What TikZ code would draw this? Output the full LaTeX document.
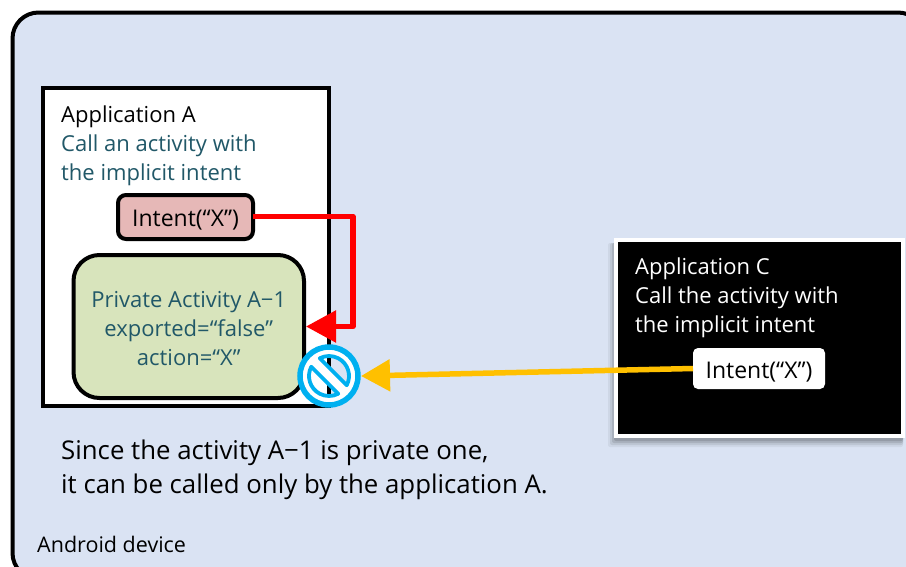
\documentclass[tikz,border=0pt]{standalone}
\usepackage{fontspec}
\setmainfont{Open Sans}
\usetikzlibrary{arrows.meta}
\definecolor{devfill}{HTML}{DAE3F3}
\definecolor{tealtext}{HTML}{215868}
\definecolor{intentfill}{HTML}{E6B8B7}
\definecolor{activityfill}{HTML}{D8E4BC}
\definecolor{stopblue}{HTML}{00B0F0}
\definecolor{calllink}{HTML}{FF0000}
\definecolor{badlink}{HTML}{FFC000}
\tikzset{
  x=1pt,y=-1pt,
  lbl/.style={anchor=base west,inner sep=0pt,font=\fontsize{22}{22}\selectfont},
  box/.style={draw=black,line width=4pt,inner sep=0pt,outer sep=0pt,anchor=north west},
  linkred/.style={draw=calllink,line width=5.5pt,line join=round,-{Triangle[length=30pt,width=31pt]}},
  linkyel/.style={draw=badlink,line width=5.5pt,-{Triangle[length=29pt,width=31pt]}},
}
\begin{document}
\begin{tikzpicture}
\useasboundingbox (0,0) rectangle (906,566);
\clip (0,0) rectangle (906,566);
% device
\node[box,fill=devfill,rounded corners=26pt,minimum width=911.5pt,minimum height=566.5pt] (device) at (12.5,12.5) {};
\node[lbl,font=\fontsize{21.5}{22}\selectfont] (devlabel) at (37,552.5) {Android device};
% Application A
\node[box,fill=white,minimum width=286.5pt,minimum height=318pt] (appA) at (42.5,88) {};
\node[lbl] (appAname) at (61,122) {Application A};
\node[lbl,text=tealtext] (appAl1) at (61,151) {Call an activity with};
\node[lbl,text=tealtext] (appAl2) at (61,180) {the implicit intent};
\node[box,fill=intentfill,rounded corners=8pt,minimum width=135pt,minimum height=44pt,font=\fontsize{23}{23}\selectfont] (intentA) at (118,195) {\raisebox{-9.5pt}[0pt][0pt]{Intent(“X”)}};
\node[box,fill=activityfill,rounded corners=26pt,minimum width=230.5pt,minimum height=143pt,text=tealtext,font=\fontsize{22}{29}\selectfont] (activity) at (73.5,255) {\raisebox{19.5pt}[0pt][0pt]{\begin{tabular}[t]{@{}c@{}}Private Activity A−1\\exported=“false”\\action=“X”\end{tabular}}};
% Application C
\foreach \o/\a in {9/0.05,7/0.08,5/0.10,3/0.12}{
  \fill[black,opacity=\a,rounded corners=2pt] (617-\o,243) rectangle (903,438+\o);
}
\node[box,draw=white,fill=black,minimum width=287pt,minimum height=196.5pt] (appC) at (616,239.5) {};
\node[lbl,text=white] (appCname) at (635,274) {Application C};
\node[lbl,text=white] (appCl1) at (635,303) {Call the activity with};
\node[lbl,text=white] (appCl2) at (635,332) {the implicit intent};
\node[fill=white,rounded corners=5pt,anchor=north west,outer sep=0pt,minimum width=132pt,minimum height=41pt,inner sep=0pt,font=\fontsize{23}{23}\selectfont] (intentC) at (693,348) {\raisebox{-9.5pt}[0pt][0pt]{Intent(“X”)}};
% connectors
\coordinate (redA) at (353,216.5);
\coordinate (redB) at (353,326.5);
\draw[linkred] (intentA.east |- redA) -- (redA) -- (redB) -- ([xshift=2pt]activity.east |- redB);
% no-entry sign
\node[circle,minimum size=64pt,inner sep=0pt,outer sep=0pt] (noentry) at (329,376) {};
\begin{scope}[shift={(noentry.center)},x=1pt,y=1pt]
  \fill[white,even odd rule] (0,0) circle[radius=28pt]
    (-27.5:20pt) arc[start angle=-27.5,end angle=117.5,radius=20pt] -- cycle
    (152.5:20pt) arc[start angle=152.5,end angle=297.5,radius=20pt] -- cycle;
  \draw[stopblue,line width=5.5pt] (0,0) circle[radius=29pt];
  \draw[stopblue,line width=3.8pt,line join=round]
    (-27.5:20pt) arc[start angle=-27.5,end angle=117.5,radius=20pt] -- cycle
    (152.5:20pt) arc[start angle=152.5,end angle=297.5,radius=20pt] -- cycle;
\end{scope}
\draw[linkyel] (intentC.west) -- (noentry.east);
% caption
\node[lbl,font=\fontsize{25.8}{26}\selectfont] (cap1) at (61,459) {Since the activity A−1 is private one,};
\node[lbl,font=\fontsize{25.8}{26}\selectfont] (cap2) at (61,493) {it can be called only by the application A.};
\end{tikzpicture}
\end{document}
